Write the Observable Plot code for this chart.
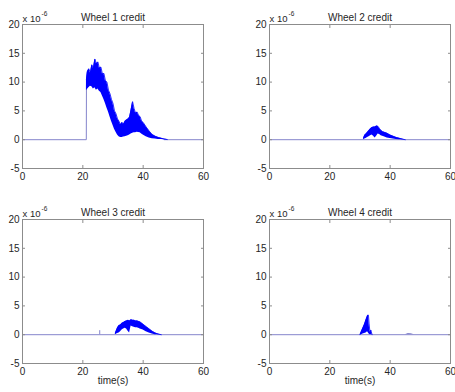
<!DOCTYPE html>
<html>
<head>
<meta charset="utf-8">
<script src="https://cdn.jsdelivr.net/npm/d3@7"></script>
<script src="https://cdn.jsdelivr.net/npm/@observablehq/plot@0.6"></script>
<style>
  body { margin: 0; background: #fff; }
  #chart { position: relative; width: 455px; height: 392px; background: #fff; overflow: hidden; }
  #chart svg { position: absolute; overflow: visible; }
</style>
</head>
<body>
<div id="chart"></div>
<script>
// ---- tick labels / titles ----
const ticksX = [0, 20, 40, 60];
const ticksY = [-5, 0, 5, 10, 15, 20];
const titles = ["Wheel 1 credit", "Wheel 2 credit", "Wheel 3 credit", "Wheel 4 credit"];
const xLabel = "time(s)";
const scaleNote = "x 10";
const scaleExp = "-6";

// ---- Wheel 1: flat trace segments + noisy band (upper / lower envelope) ----
const w1TraceT   = [0, 21.15, 21.2, 47, 60];
const w1TraceV   = [0, 0, 9.5, 0, 0];
const w1TraceSeg = [0, 0, 0, 1, 1];
const w1T  = [21.2, 21.5, 22, 22.5, 23, 23.5, 24, 24.5, 25, 25.5, 26, 26.5, 27, 27.5, 28, 28.5, 29, 29.5, 30, 30.5, 31, 31.5, 32, 32.5, 33, 33.5, 34, 34.5, 35, 35.5, 36, 36.5, 37, 37.5, 38, 38.5, 39, 39.5, 40, 41, 42, 43, 44, 45, 46, 47, 48];
const w1Hi = [10.5, 11.8, 12.3, 11.6, 13.0, 12.4, 14.0, 13.2, 13.5, 12.4, 12.6, 11.4, 11.5, 10.2, 10.0, 8.6, 8.0, 7.0, 6.3, 5.0, 4.5, 3.6, 3.2, 2.6, 3.0, 2.7, 3.2, 3.4, 3.6, 3.9, 5.2, 6.6, 5.4, 4.6, 4.8, 4.2, 4.0, 3.2, 3.0, 2.2, 1.5, 0.9, 0.6, 0.4, 0.25, 0.1, 0.03];
const w1Lo = [8.5, 8.7, 9.0, 9.3, 9.2, 8.8, 9.0, 8.6, 8.8, 8.4, 8.2, 7.6, 7.0, 6.3, 5.5, 4.8, 4.0, 3.2, 2.5, 1.8, 1.3, 0.8, 0.5, 0.4, 0.4, 0.45, 0.5, 0.6, 0.7, 0.8, 1.0, 1.1, 1.2, 1.2, 1.3, 1.25, 1.2, 1.0, 0.8, 0.5, 0.3, 0.15, 0.1, 0.05, 0.02, 0, 0];

// ---- Wheel 2 ----
const w2TraceT   = [0, 60];
const w2TraceV   = [0, 0];
const w2TraceSeg = [0, 0];
const w2T  = [31.2, 31.6, 32, 32.5, 33, 33.5, 34, 34.5, 35, 35.5, 36, 36.5, 37, 37.5, 38, 39, 40, 41, 42, 43, 44, 45];
const w2Hi = [0.3, 0.8, 1.0, 1.3, 1.6, 1.9, 2.1, 2.2, 2.2, 2.4, 2.3, 1.9, 1.6, 1.4, 1.3, 1.1, 0.8, 0.6, 0.4, 0.25, 0.1, 0];
const w2Lo = [0, 0.1, 0.2, 0.4, 0.5, 0.7, 0.8, 0.6, 0.3, 0.6, 1.0, 0.9, 0.7, 0.6, 0.5, 0.3, 0.2, 0.1, 0.05, 0, 0, 0];

// ---- Wheel 3 ----
const w3TraceT   = [0, 60];
const w3TraceV   = [0, 0];
const w3TraceSeg = [0, 0];
const w3SpikeT = [25.6];
const w3SpikeV = [0.7];
const w3T  = [30.8, 31.5, 32, 32.5, 33, 33.5, 34, 34.5, 35, 35.5, 36, 36.5, 37, 37.5, 38, 38.5, 39, 40, 41, 42, 43, 44, 45, 46];
const w3Hi = [0.3, 1.2, 1.6, 1.7, 2.0, 2.1, 2.3, 2.4, 2.5, 2.4, 2.6, 2.5, 2.5, 2.4, 2.4, 2.3, 2.2, 1.8, 1.4, 1.0, 0.6, 0.3, 0.1, 0];
const w3Lo = [0, 0.2, 0.3, 0.5, 0.8, 1.0, 1.1, 1.0, 0.6, 0.3, 1.5, 1.4, 1.3, 1.2, 1.2, 1.1, 1.0, 0.8, 0.5, 0.3, 0.1, 0, 0, 0];

// ---- Wheel 4 ----
const w4TraceT   = [0, 60];
const w4TraceV   = [0, 0];
const w4TraceSeg = [0, 0];
const w4T  = [30.0, 30.5, 31, 31.5, 32, 32.5, 32.8, 33, 33.3, 33.6, 34];
const w4Hi = [0, 0.6, 1.2, 1.8, 2.6, 3.3, 3.4, 2.0, 0.4, 0.8, 0];
const w4Lo = [0, 0, 0.1, 0.2, 0.3, 0.5, 0.3, 0.1, 0, 0, 0];
const w4LumpT = [45, 46, 47, 48];
const w4LumpV = [0, 0.2, 0.15, 0];

// ---- build tables ----
const zipBand = (t, lo, hi) => t.map((d, i) => ({t: d, lo: lo[i], hi: hi[i]}));
const zipLine = (t, v, seg) => t.map((d, i) => ({t: d, v: v[i], seg: seg ? seg[i] : 0}));

const panels = [
  {title: titles[0], trace: zipLine(w1TraceT, w1TraceV, w1TraceSeg), band: zipBand(w1T, w1Lo, w1Hi), spikes: [], left: 0, top: 0, col: 0, row: 0},
  {title: titles[1], trace: zipLine(w2TraceT, w2TraceV, w2TraceSeg), band: zipBand(w2T, w2Lo, w2Hi), spikes: [], left: 247, top: 0, col: 1, row: 0},
  {title: titles[2], trace: zipLine(w3TraceT, w3TraceV, w3TraceSeg), band: zipBand(w3T, w3Lo, w3Hi), spikes: zipLine(w3SpikeT, w3SpikeV), left: 0, top: 195, col: 0, row: 1},
  {title: titles[3], trace: zipLine(w4TraceT, w4TraceV, w4TraceSeg), band: zipBand(w4T, w4Lo, w4Hi), spikes: [], lump: zipLine(w4LumpT, w4LumpV), left: 247, top: 195, col: 1, row: 1}
];

const frameColor = "#8c8c8c";
const traceColor = "#8585cc";
const dataColor = "#0000ff";
const textColor = "#262626";

const chart = document.getElementById("chart");

for (const p of panels) {
  const width = p.col === 0 ? 227 : 208;
  const height = p.row === 0 ? 196 : 197;
  const marks = [
    Plot.lineY(p.trace, {x: "t", y: "v", z: "seg", stroke: traceColor, strokeWidth: 1}),
    Plot.areaY(p.band, {x: "t", y1: "lo", y2: "hi", fill: dataColor, curve: "linear"}),
    Plot.lineY(p.band, {x: "t", y: "hi", stroke: dataColor, strokeWidth: 0.8}),
    Plot.ruleX(p.spikes, {x: "t", y1: 0, y2: "v", stroke: traceColor}),
    p.lump ? Plot.areaY(p.lump, {x: "t", y1: 0, y2: "v", fill: traceColor}) : null,
    Plot.frame({stroke: frameColor}),
    Plot.axisX({ticks: ticksX, tickSize: 0, tickPadding: 4, tickFormat: d => String(d), label: null, fill: textColor}),
    Plot.axisY({ticks: ticksY, tickSize: 0, tickPadding: 3, tickFormat: d => String(d), label: null, fill: textColor}),
    Plot.axisX({ticks: ticksX, anchor: "bottom", tickSize: -3, text: null, label: null, stroke: frameColor}),
    Plot.axisX({ticks: ticksX, anchor: "top", tickSize: -3, text: null, label: null, stroke: frameColor}),
    Plot.axisY({ticks: ticksY, anchor: "left", tickSize: -3, text: null, label: null, stroke: frameColor}),
    Plot.axisY({ticks: ticksY, anchor: "right", tickSize: -3, text: null, label: null, stroke: frameColor}),
    Plot.text([p.title], {frameAnchor: "top", text: d => d, dy: -11, fontSize: 10, fill: textColor}),
    Plot.text([scaleNote], {frameAnchor: "top-left", text: d => d, textAnchor: "start", dx: 0, dy: -9, fontSize: 9.5, fill: textColor}),
    Plot.text([scaleExp], {frameAnchor: "top-left", text: d => d, textAnchor: "start", dx: 19, dy: -13, fontSize: 6.5, fill: textColor})
  ];
  if (p.row === 1) {
    marks.push(Plot.text([xLabel], {frameAnchor: "bottom", text: d => d, dy: 20, fontSize: 10, fill: textColor}));
  }
  const svg = Plot.plot({
    width, height,
    marginLeft: 22,
    marginRight: p.col === 0 ? 24 : 5,
    marginTop: 24,
    marginBottom: p.row === 0 ? 28 : 29,
    x: {domain: [0, 60]},
    y: {domain: [-5, 20]},
    style: {fontFamily: "'Liberation Sans', Arial, sans-serif", fontSize: "10px", color: textColor, background: "transparent", overflow: "visible"},
    marks: marks.filter(Boolean)
  });
  svg.style.left = p.left + "px";
  svg.style.top = p.top + "px";
  chart.appendChild(svg);
}
</script>
</body>
</html>
